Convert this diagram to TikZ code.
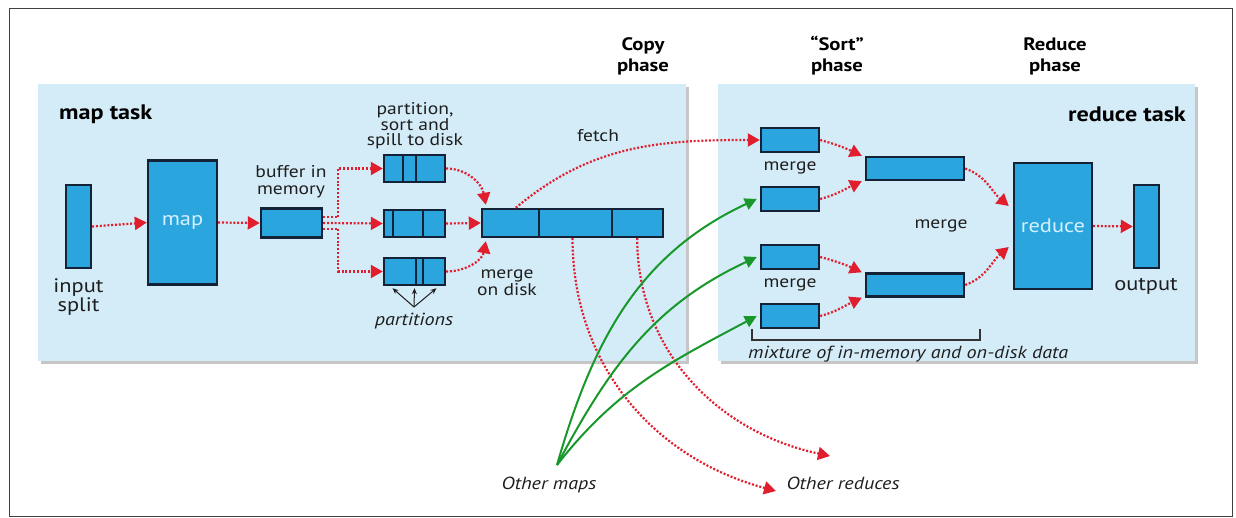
\documentclass[tikz,border=0pt]{standalone}
\usepackage{fontspec}
\setmainfont{PT Sans}[FakeStretch=1.15]
\usetikzlibrary{arrows.meta,shadows,calc}
\definecolor{panel}{RGB}{212,236,248}
\definecolor{boxfill}{RGB}{42,165,222}
\definecolor{boxline}{RGB}{20,34,56}
\definecolor{flow}{RGB}{224,30,46}
\definecolor{mapflow}{RGB}{24,152,42}
\definecolor{inktext}{RGB}{30,30,30}
\definecolor{boxtext}{RGB}{214,240,255}
\tikzset{
  x=1pt, y=-1pt,
  panelbox/.style={fill=panel, draw=none,
    drop shadow={shadow xshift=3pt, shadow yshift=-3pt, opacity=0.45}},
  datablock/.style={rectangle, draw=boxline, fill=boxfill, line width=2.4pt,
    inner sep=0pt},
  divider/.style={draw=boxline, line width=2.4pt},
  flowarrow/.style={draw=flow, line width=2.2pt, dash pattern=on 2pt off 1.8pt,
    -{Triangle[length=12pt,width=13pt]}},
  maparrow/.style={draw=mapflow, line width=2pt,
    -{Triangle[length=12pt,width=12pt]}},
  partarrow/.style={draw=inktext, line width=1pt, -{Stealth[length=6pt,width=5pt]}},
  lbl/.style={font=\fontsize{17}{16.5}\selectfont, align=center, inner sep=0pt,
    text=inktext},
  biglbl/.style={font=\fontsize{19.5}{19}\selectfont, align=center, inner sep=0pt,
    text=inktext},
  ital/.style={font=\fontsize{17.5}{17.5}\selectfont\itshape, inner sep=0pt,
    text=inktext},
  tasktitle/.style={font=\fontsize{21}{21}\selectfont\bfseries, inner sep=0pt,
    text=black},
  phaselbl/.style={font=\fontsize{18}{21}\selectfont\bfseries, align=center,
    inner sep=0pt, text=black},
}
\begin{document}
\begin{tikzpicture}
\useasboundingbox (0,0) rectangle (1236,518);
% outer frame
\draw[line width=1pt, black!75] (9,9) rectangle (1232,516);

% task panels
\path[panelbox] (38,84) rectangle (686,361);
\path[panelbox] (718,84) rectangle (1195,361);

\node[tasktitle, anchor=west] (maptitle) at (59,114) {map task};
\node[tasktitle, anchor=east] (redtitle) at (1186,114) {reduce task};

% phase headings
\node[phaselbl] (copyph) at (643,56) {Copy\\phase};
\node[phaselbl] (sortph) at (837,56) {“Sort”\\phase};
\node[phaselbl] (redph) at (1055,56) {Reduce\\phase};

% ---------- map side ----------
\node[datablock, minimum width=25pt, minimum height=83pt] (split) at (78.5,226.5) {};
\node[biglbl] (splitlbl) at (78.5,297) {input\\split};

\node[datablock, minimum width=69pt, minimum height=124pt] (map) at (182.5,222.5)
  {\fontsize{19.5}{19.5}\selectfont\color{boxtext}map};

\node[datablock, minimum width=61pt, minimum height=29pt] (buf) at (291.5,223) {};
\node[lbl, font=\fontsize{17}{17}\selectfont] (buflbl) at (291,182) {buffer in\\memory};

\node[datablock, minimum width=61pt, minimum height=27pt] (s1) at (414.5,168.5) {};
\node[datablock, minimum width=61pt, minimum height=27pt] (s2) at (414.5,223.5) {};
\node[datablock, minimum width=61pt, minimum height=27pt] (s3) at (414.5,271.5) {};
\draw[divider] ([xshift=20pt]s1.north west) -- ([xshift=20pt]s1.south west);
\draw[divider] ([xshift=33pt]s1.north west) -- ([xshift=33pt]s1.south west);
\draw[divider] ([xshift=10pt]s2.north west) -- ([xshift=10pt]s2.south west);
\draw[divider] ([xshift=40pt]s2.north west) -- ([xshift=40pt]s2.south west);
\draw[divider] ([xshift=33pt]s3.north west) -- ([xshift=33pt]s3.south west);
\draw[divider] ([xshift=40pt]s3.north west) -- ([xshift=40pt]s3.south west);
\node[lbl, font=\fontsize{17}{15.5}\selectfont] (spilllbl) at (415,126) {partition,\\sort and\\spill to disk};

\node[datablock, minimum width=181pt, minimum height=28pt] (mrg) at (572.5,223) {};
\draw[divider] ([xshift=58pt]mrg.north west) -- ([xshift=58pt]mrg.south west);
\draw[divider] ([xshift=131pt]mrg.north west) -- ([xshift=131pt]mrg.south west);
\node[lbl] (mrglbl) at (507,283) {merge\\on disk};

\node[ital] (partlbl) at (414,321) {partitions};
\coordinate (pfan) at (414,307);
\draw[partarrow] (pfan) -- ([xshift=-22pt,yshift=-2pt]s3.south);
\draw[partarrow] (pfan) -- ([yshift=-2pt]s3.south);
\draw[partarrow] (pfan) -- ([xshift=22pt,yshift=-2pt]s3.south);

\node[lbl] (fetchlbl) at (598,136) {fetch};

% map-side flows
\draw[flowarrow] (split.east) -- (map.west);
\draw[flowarrow] (map.east) -- (buf.west);
\draw[flowarrow] ([yshift=6pt]buf.east) -- ++(15,0) |- (s1.west);
\draw[flowarrow] (buf.east) -- (s2.west);
\draw[flowarrow] ([yshift=-6pt]buf.east) -- ++(15,0) |- (s3.west);
\draw[flowarrow] (s1.east) to[out=0,in=100] ([xshift=5pt,yshift=3pt]mrg.north west);
\draw[flowarrow] (s2.east) -- (mrg.west);
\draw[flowarrow] (s3.east) to[out=0,in=-100] ([xshift=5pt,yshift=-3pt]mrg.south west);

% ---------- reduce side ----------
\node[datablock, minimum width=58pt, minimum height=24pt] (a1) at (790,140) {};
\node[datablock, minimum width=58pt, minimum height=24pt] (a2) at (790,199) {};
\node[datablock, minimum width=58pt, minimum height=24pt] (b1) at (790,257) {};
\node[datablock, minimum width=58pt, minimum height=24pt] (b2) at (790,316) {};
\node[lbl] (mergeA) at (790,168) {merge};
\node[lbl] (mergeB) at (790,285) {merge};

\node[datablock, minimum width=98pt, minimum height=23pt] (c1) at (915,168.5) {};
\node[datablock, minimum width=98pt, minimum height=23pt] (c2) at (915,285) {};
\node[lbl] (mergeC) at (941,226) {merge};

\node[datablock, minimum width=78pt, minimum height=126pt] (red) at (1053,226)
  {\fontsize{19.5}{19.5}\selectfont\color{boxtext}reduce};
\node[datablock, minimum width=25pt, minimum height=83pt] (out) at (1146.5,226.5) {};
\node[biglbl] (outlbl) at (1146,286) {output};

\draw[line width=1.2pt, black!80] (752,329) -- (752,340) -- (980,340) -- (980,329);
\node[ital, anchor=west] (mixlbl) at (748,354) {mixture of in-memory and on-disk data};

\draw[flowarrow] (a1.east) to[out=-15,in=155] ([xshift=-3pt]c1.north west);
\draw[flowarrow] (a2.east) to[out=15,in=-155] ([xshift=-3pt]c1.south west);
\draw[flowarrow] (b1.east) to[out=-15,in=155] ([xshift=-3pt]c2.north west);
\draw[flowarrow] (b2.east) to[out=15,in=-155] ([xshift=-3pt]c2.south west);
\draw[flowarrow] (c1.east) to[out=-20,in=140] ([xshift=-4pt,yshift=20pt]red.west);
\draw[flowarrow] (c2.east) to[out=20,in=-140] ([xshift=-4pt,yshift=-21pt]red.west);
\draw[flowarrow] (red.east) -- (out.west);

% copy phase: fetch and shuffle to other reducers
\draw[flowarrow] ([xshift=35pt]mrg.north west) to[out=40,in=180] (a1.west);
\coordinate (otherA) at (776,491);
\coordinate (otherB) at (830,456);
\draw[flowarrow] (mrg.south) to[out=-90,in=165] (otherA);
\draw[flowarrow] ([xshift=-27pt]mrg.south east) to[out=-90,in=168] (otherB);
\node[ital] (redslbl) at (843,483) {Other reduces};

% map outputs arriving from other maps
\coordinate (om) at (557,465);
\node[ital] (mapslbl) at (549,485) {Other maps};
\draw[maparrow] (om) to[out=74,in=205] ([xshift=-3pt]a2.west);
\draw[maparrow] (om) to[out=62,in=205] ([xshift=-3pt]b1.west);
\draw[maparrow] (om) to[out=52,in=208] ([xshift=-3pt]b2.west);
\end{tikzpicture}
\end{document}
